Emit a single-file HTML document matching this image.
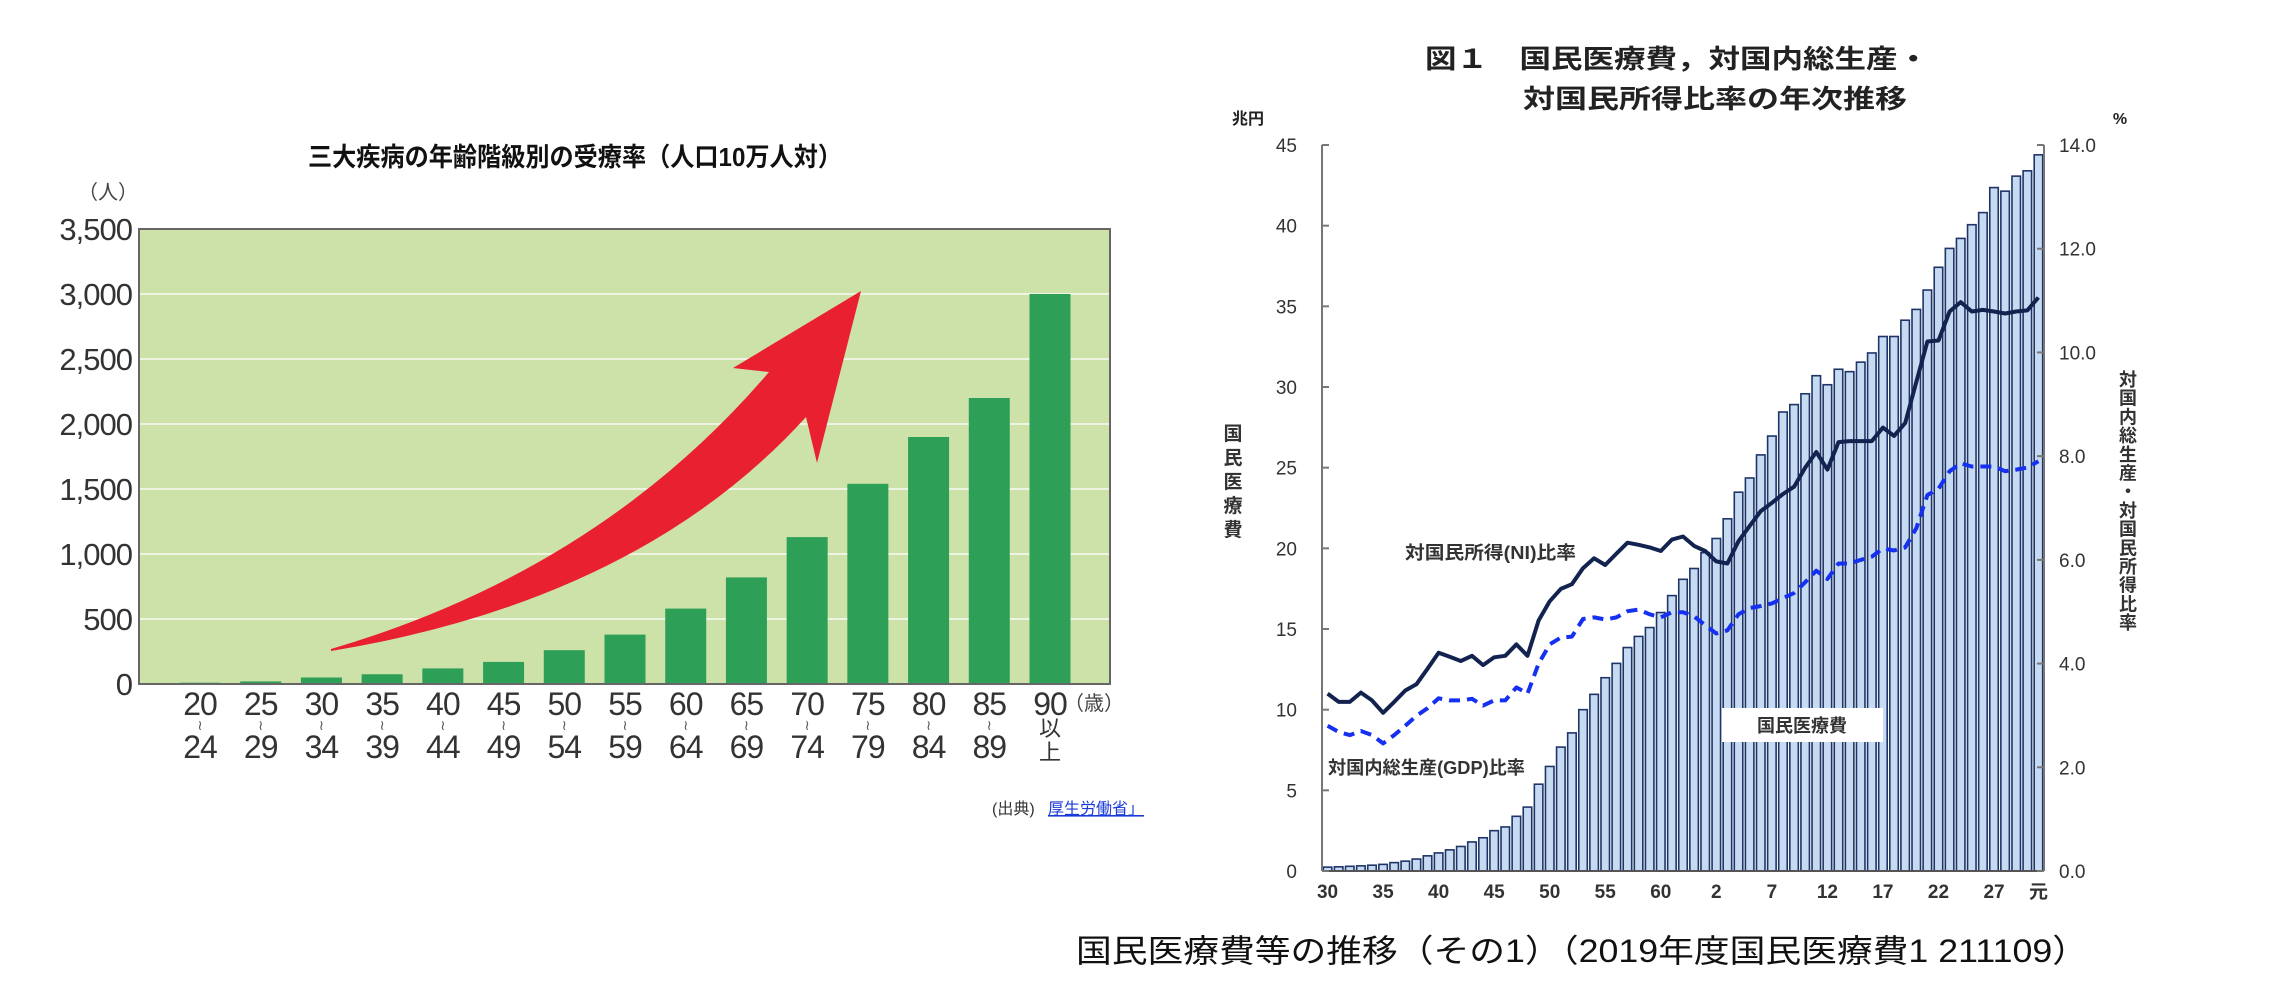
<!DOCTYPE html>
<html><head><meta charset="utf-8"><style>
html,body{margin:0;padding:0;background:#fff;}
svg{display:block;font-family:"Liberation Sans","Noto Sans CJK JP",sans-serif;}
</style></head><body>
<svg id="svg" width="2286" height="998" viewBox="0 0 2286 998" xmlns="http://www.w3.org/2000/svg">
<g id="left">
  <text x="575" y="166" text-anchor="middle" font-size="26" font-weight="bold" fill="#111" textLength="534" lengthAdjust="spacingAndGlyphs">三大疾病の年齢階級別の受療率（人口10万人対）</text>
  <text x="108" y="199" text-anchor="middle" font-size="20" fill="#444">（人）</text>
  <rect x="139" y="229" width="971" height="455" fill="#cde2a8"/>
  <g id="lgrid"></g>
  <path d="M331,649 Q600,570 769,372 L733,368 L861,291 L817,463 L806,417 Q640,600 331,651 Z" fill="#e8202f"/>
  <g id="lbars"></g>
  <rect x="139" y="229" width="971" height="455" fill="none" stroke="#666" stroke-width="2"/>
  <g id="lxlab"></g>
  <text x="1094" y="710" text-anchor="middle" font-size="20" fill="#444">（歳）</text>
  <text x="992" y="814" font-size="16" fill="#333">(出典)</text>
  <text x="1048" y="814" font-size="16" fill="#1a3ad8" text-decoration="underline">厚生労働省」</text>
</g>
<g id="right">
  <text x="1677" y="68" text-anchor="middle" font-size="26" font-weight="bold" fill="#222" textLength="504" lengthAdjust="spacingAndGlyphs">図１　国民医療費，対国内総生産・</text>
  <text x="1715" y="108" text-anchor="middle" font-size="26" font-weight="bold" fill="#222" textLength="384" lengthAdjust="spacingAndGlyphs">対国民所得比率の年次推移</text>
  <text x="1248" y="124" text-anchor="middle" font-size="16" font-weight="bold" fill="#222">兆円</text>
  <text x="2120" y="124" text-anchor="middle" font-size="16" font-weight="bold" fill="#222">%</text>
  <g id="ytitle"></g>
  <g id="y2title"></g>
  <g id="rbars"></g>
  <rect x="1722" y="708" width="161" height="34" fill="#fff"/>
  <text x="1802" y="732" text-anchor="middle" font-size="18" font-weight="bold" fill="#333">国民医療費</text>
  <g id="rlines"></g>
  <text x="1405" y="559" font-size="18" font-weight="bold" fill="#333" textLength="171" lengthAdjust="spacingAndGlyphs">対国民所得(NI)比率</text>
  <text x="1328" y="774" font-size="18" font-weight="bold" fill="#333" textLength="197" lengthAdjust="spacingAndGlyphs">対国内総生産(GDP)比率</text>
  <g id="raxes"></g>
</g>
<text x="1076" y="962" font-size="32" fill="#111" textLength="1012" lengthAdjust="spacingAndGlyphs">国民医療費等の推移（その1）（2019年度国民医療費1 211109）</text>
</svg>
<script>
// ---- Left chart data ----
const ageTop = ["20","25","30","35","40","45","50","55","60","65","70","75","80","85","90"];
const ageBottom = ["24","29","34","39","44","49","54","59","64","69","74","79","84","89",""];
const rates = [10,20,50,75,120,170,260,380,580,820,1130,1540,1900,2200,3000];
const leftTicks = [0,500,1000,1500,2000,2500,3000,3500];
const leftTickLabels = ["0","500","1,000","1,500","2,000","2,500","3,000","3,500"];

// ---- Right chart data ----
const yearLabels = ["30","35","40","45","50","55","60","2","7","12","17","22","27","元"];
const yearLabelIdx = [0,5,10,15,20,25,30,35,40,45,50,55,60,64];
const medCost = [0.24,0.26,0.29,0.32,0.36,0.41,0.52,0.61,0.74,0.94,1.12,1.31,1.52,1.80,2.06,2.50,2.73,3.39,3.96,5.38,6.48,7.68,8.56,10.0,10.95,11.98,12.87,13.85,14.54,15.09,16.02,17.07,18.08,18.75,19.73,20.61,21.83,23.48,24.36,25.79,26.96,28.45,28.91,29.58,30.70,30.14,31.10,30.95,31.54,32.11,33.13,33.13,34.14,34.81,36.01,37.42,38.59,39.21,40.06,40.81,42.36,42.14,43.07,43.40,44.39];
const niRatio = [3.42,3.26,3.26,3.44,3.29,3.05,3.26,3.48,3.6,3.9,4.21,4.13,4.05,4.15,3.97,4.12,4.15,4.37,4.15,4.83,5.2,5.44,5.53,5.84,6.03,5.9,6.12,6.33,6.29,6.24,6.17,6.39,6.45,6.27,6.17,5.97,5.93,6.36,6.65,6.94,7.1,7.27,7.41,7.78,8.08,7.74,8.27,8.29,8.29,8.29,8.55,8.39,8.64,9.43,10.21,10.23,10.79,10.97,10.79,10.82,10.79,10.75,10.79,10.81,11.06];
const gdpRatio = [2.8,2.68,2.62,2.7,2.62,2.46,2.62,2.8,2.99,3.14,3.33,3.29,3.29,3.32,3.19,3.29,3.29,3.54,3.42,4.0,4.37,4.5,4.52,4.86,4.89,4.85,4.89,5.01,5.04,4.95,4.89,4.99,4.99,4.91,4.74,4.58,4.64,4.95,5.07,5.11,5.16,5.26,5.36,5.57,5.79,5.63,5.93,5.93,6.0,6.06,6.22,6.18,6.24,6.61,7.25,7.37,7.71,7.86,7.8,7.8,7.8,7.71,7.74,7.78,7.9];
const yenTicks = [0,5,10,15,20,25,30,35,40,45];
const pctTicks = [0,2,4,6,8,10,12,14];
const pctTickLabels = ["0.0","2.0","4.0","6.0","8.0","10.0","12.0","14.0"];

const NS = "http://www.w3.org/2000/svg";
function mk(tag, attrs, parent, txt){
  const e = document.createElementNS(NS, tag);
  for (const k in attrs) e.setAttribute(k, attrs[k]);
  if (txt !== undefined) e.textContent = txt;
  parent.appendChild(e);
  return e;
}
// left axes
const L = {x0:139, x1:1110, y0:684, y1:229, max:3500};
const ly = v => L.y0 - v / L.max * (L.y0 - L.y1);
const lx = i => 200 + i * (1050 - 200) / (ageTop.length - 1);
const lgrid = document.getElementById('lgrid');
leftTicks.forEach((t, i) => {
  if (t > 0 && t < L.max) {
    const g = mk('line', {x1:L.x0, x2:L.x1, y1:ly(t), y2:ly(t), stroke:'#eef4e2', 'stroke-width':2}, lgrid);
    
    
  }
  const lb = mk('text', {x:132, y:ly(t)+11, 'text-anchor':'end', 'font-size':31, fill:'#333', 'letter-spacing':'-1'}, lgrid, leftTickLabels[i]);
  
  
});
const lbars = document.getElementById('lbars');
const lxlab = document.getElementById('lxlab');
rates.forEach((v, i) => {
  const b = mk('rect', {x:lx(i)-20.5, y:ly(v), width:41, height:L.y0-ly(v), fill:'#2e9f56'}, lbars);
  
  
  const t1 = mk('text', {x:lx(i), y:715, 'text-anchor':'middle', 'font-size':32, fill:'#333', 'letter-spacing':'-1'}, lxlab, ageTop[i]);
  
  
  const t2 = mk('text', {x:lx(i), y:730, 'text-anchor':'middle', 'font-size':14, fill:'#555'}, lxlab, '≀');
  
  
  if (ageBottom[i]) {
    const t3 = mk('text', {x:lx(i), y:758, 'text-anchor':'middle', 'font-size':32, fill:'#333', 'letter-spacing':'-1'}, lxlab, ageBottom[i]);
    
    
  } else {
    const a = mk('text', {x:lx(i), y:736, 'text-anchor':'middle', 'font-size':22, fill:'#333'}, lxlab, '以');
    
    
    const b2 = mk('text', {x:lx(i), y:760, 'text-anchor':'middle', 'font-size':22, fill:'#333'}, lxlab, '上');
    
    
  }
});

// right axes
const R = {x0:1322, x1:2044, y0:871, y1:145};
const bw = (R.x1 - R.x0) / medCost.length;
const rx = i => R.x0 + bw * (i + 0.5);
const yY = v => R.y0 - v / 45 * (R.y0 - R.y1);
const yP = v => R.y0 - v / 14 * (R.y0 - R.y1);
const rbars = document.getElementById('rbars');
medCost.forEach((v, i) => {
  const b = mk('rect', {x:R.x0 + bw*i + 1.3, y:yY(v), width:bw-2.6, height:R.y0-yY(v), fill:'#c6daf2', stroke:'#1f3568', 'stroke-width':1.6}, rbars);
  
  
});
const rlines = document.getElementById('rlines');
const ptsG = gdpRatio.map((v,i) => rx(i).toFixed(1)+','+yP(v).toFixed(1)).join(' ');
const ptsN = niRatio.map((v,i) => rx(i).toFixed(1)+','+yP(v).toFixed(1)).join(' ');
const gl = mk('polyline', {points:ptsG, fill:'none', stroke:'#1530f0', 'stroke-width':4, 'stroke-dasharray':'11 7', 'stroke-linejoin':'round'}, rlines);


const nl = mk('polyline', {points:ptsN, fill:'none', stroke:'#13234f', 'stroke-width':4, 'stroke-linejoin':'round'}, rlines);



const raxes = document.getElementById('raxes');
const ax1 = mk('line', {x1:R.x0, x2:R.x0, y1:R.y1, y2:R.y0, stroke:'#777', 'stroke-width':2}, raxes);


const ax2 = mk('line', {x1:R.x1, x2:R.x1, y1:R.y1, y2:R.y0, stroke:'#777', 'stroke-width':2}, raxes);


const ax3 = mk('line', {x1:R.x0, x2:R.x1, y1:R.y0, y2:R.y0, stroke:'#555', 'stroke-width':2}, raxes);


yenTicks.forEach(t => {
  const tk = mk('line', {x1:R.x0, x2:R.x0+7, y1:yY(t), y2:yY(t), stroke:'#777', 'stroke-width':2}, raxes);
  
  
  const lb = mk('text', {x:1297, y:yY(t)+7, 'text-anchor':'end', 'font-size':19, fill:'#333'}, raxes, String(t));
  
  
});
pctTicks.forEach((t, i) => {
  const tk = mk('line', {x1:R.x1-7, x2:R.x1, y1:yP(t), y2:yP(t), stroke:'#777', 'stroke-width':2}, raxes);
  
  
  const lb = mk('text', {x:2059, y:yP(t)+7, 'font-size':19, fill:'#333'}, raxes, pctTickLabels[i]);
  
  
});
yearLabels.forEach((s, i) => {
  const lb = mk('text', {x:rx(yearLabelIdx[i]), y:898, 'text-anchor':'middle', 'font-size':19, 'font-weight':'bold', fill:'#333'}, raxes, s);
  
  
});
const yt = document.getElementById('ytitle');
Array.from('国民医療費').forEach((c, i) => {
  const t = mk('text', {x:1233, y:440 + i*24, 'text-anchor':'middle', 'font-size':19, 'font-weight':'bold', fill:'#333'}, yt, c);
  
  
});
const y2 = document.getElementById('y2title');
Array.from('対国内総生産・対国民所得比率').forEach((c, i) => {
  const t = mk('text', {x:2128, y:386 + i*18.7, 'text-anchor':'middle', 'font-size':18, 'font-weight':'bold', fill:'#333'}, y2, c);
  
  
});
</script>
</body></html>
